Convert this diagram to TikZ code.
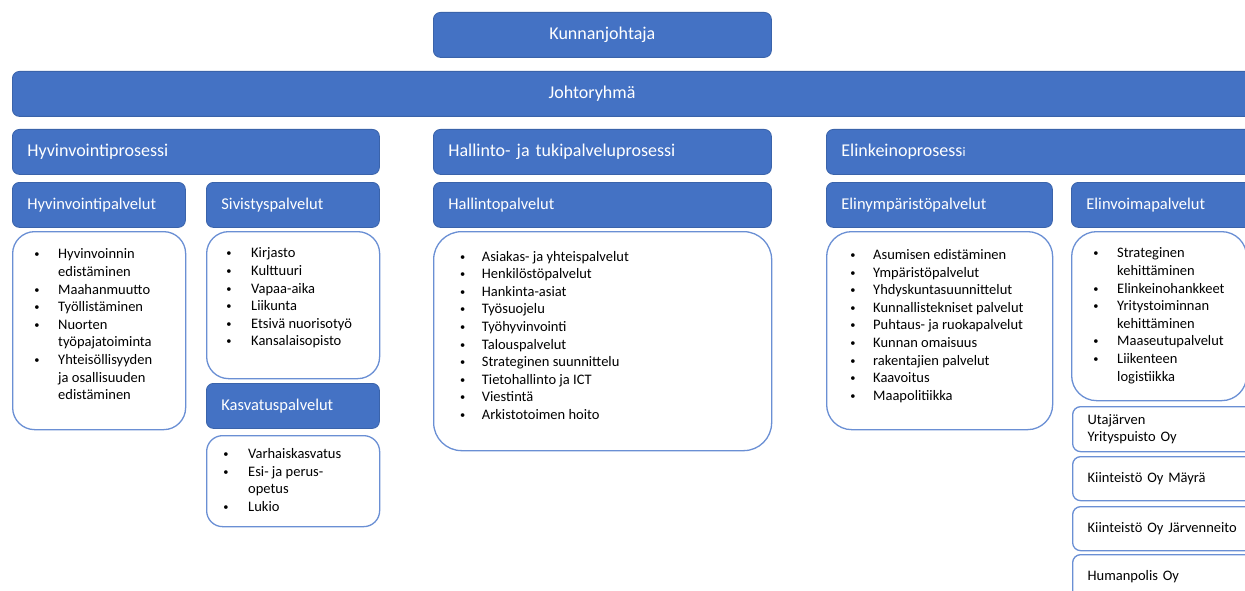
\documentclass[tikz,border=0pt]{standalone}
\usepackage{fontspec}
\setmainfont{Carlito}
\definecolor{ofblue}{HTML}{4472C4}
\definecolor{ofedge}{HTML}{3A63AA}
\definecolor{lsedge}{HTML}{6A8FD4}
\newlength\bw
\newcommand{\bu}{\makebox[\bw][l]{\hspace{0.6pt}\raisebox{1pt}{\scalebox{0.72}{\textbullet}}}}
\tikzset{
 bluebox/.style={draw=ofedge, line width=0.8pt, fill=ofblue, rounded corners=7pt, text=white, inner ysep=0pt, anchor=north west},
 hdrA/.style={bluebox, font=\fontsize{18}{21}\selectfont, inner xsep=15pt, align=left, minimum height=45pt},
 hdrB/.style={bluebox, font=\fontsize{16.5}{20}\selectfont, inner xsep=15pt, align=left, minimum height=45pt},
 listbox/.style={draw=lsedge, line width=1.3pt, fill=white, rounded corners=22pt, anchor=north west, inner sep=0pt},
 listtext/.style={anchor=base west, inner sep=0pt, font=\fontsize{14.5}{17.6}\selectfont, text=black},
 compbox/.style={draw=lsedge, line width=1.3pt, fill=white, rounded corners=8pt, anchor=north west, inner xsep=15pt, inner ysep=0pt, align=left, font=\fontsize{14.5}{17.6}\selectfont, text=black},
}
\begin{document}
\begin{tikzpicture}[x=1pt,y=-1pt]
\useasboundingbox (0,0) rectangle (1245,591);
\clip (0,0) rectangle (1245,591);
\fill[white] (0,0) rectangle (1245,591);

% top
\node[bluebox, font=\fontsize{18}{21}\selectfont, minimum width=338pt, minimum height=45pt, inner xsep=0pt] (kunnan) at (433,12) {Kunnanjohtaja};
\node[bluebox, minimum width=1260pt, minimum height=45pt, inner xsep=0pt] (johto) at (12,71) {};
\node[text=white, font=\fontsize{18}{21}\selectfont, inner sep=0pt] (johtot) at (592,93.5) {Johtoryhmä};

% process row
\node[hdrA, text width=337pt] (hproc) at (12,129) {Hyvinvointiprosessi};
\node[hdrA, text width=308pt] (aproc) at (433,129) {Hallinto- ja tukipalveluprosessi};
\node[hdrA, text width=404pt] (eproc) at (826,129) {Elinkeinoprosess{\fontsize{13}{15}\selectfont i}};

% sub headers
\node[hdrB, text width=143pt] (hpalv) at (12,182) {Hyvinvointipalvelut};
\node[hdrB, text width=143pt] (spalv) at (206,182) {Sivistyspalvelut};
\node[hdrB, text width=308pt] (apalv) at (433,182) {Hallintopalvelut};
\node[hdrB, text width=196pt] (epalv) at (826,182) {Elinympäristöpalvelut};
\node[hdrB, text width=170pt] (vpalv) at (1071,182) {Elinvoimapalvelut};
\node[hdrB, text width=143pt] (kpalv) at (206,383) {Kasvatuspalvelut};

% list boxes
\node[listbox, minimum width=173pt, minimum height=198pt] (hbox) at (12,231) {};
\node[listtext] (hlist) at (33.5,258.8) {\setlength\bw{24.5pt}\begin{tabular}[t]{@{}l@{}l@{}}
\bu & Hyvinvoinnin\\ & edistäminen\\
\bu & Maahanmuutto\\
\bu & Työllistäminen\\
\bu & Nuorten\\ & työpajatoiminta\\
\bu & Yhteisöllisyyden\\ & ja osallisuuden\\ & edistäminen
\end{tabular}};

\node[listbox, minimum width=173pt, minimum height=147pt] (sbox) at (206,231) {};
\node[listtext] (slist) at (225.5,257.8) {\setlength\bw{25.5pt}\begin{tabular}[t]{@{}l@{}l@{}}
\bu & Kirjasto\\
\bu & Kulttuuri\\
\bu & Vapaa-aika\\
\bu & Liikunta\\
\bu & Etsivä nuorisotyö\\
\bu & Kansalaisopisto
\end{tabular}};

\node[listbox, rounded corners=16pt, minimum width=173pt, minimum height=91pt] (kbox) at (206,435) {};
\node[listtext] (klist) at (222.5,458.5) {\setlength\bw{25.5pt}\begin{tabular}[t]{@{}l@{}l@{}}
\bu & Varhaiskasvatus\\
\bu & Esi- ja perus-\\ & opetus\\
\bu & Lukio
\end{tabular}};

\node[listbox, rounded corners=28pt, minimum width=338pt, minimum height=219pt] (abox) at (433,231) {};
\node[listtext] (alist) at (459.2,261) {\setlength\bw{22.5pt}\begin{tabular}[t]{@{}l@{}l@{}}
\bu & Asiakas- ja yhteispalvelut\\
\bu & Henkilöstöpalvelut\\
\bu & Hankinta-asiat\\
\bu & Työsuojelu\\
\bu & Työhyvinvointi\\
\bu & Talouspalvelut\\
\bu & Strateginen suunnittelu\\
\bu & Tietohallinto ja ICT\\
\bu & Viestintä\\
\bu & Arkistotoimen hoito
\end{tabular}};

\node[listbox, rounded corners=25pt, minimum width=226pt, minimum height=198pt] (ebox) at (826,231) {};
\node[listtext] (elist) at (849.5,259.5) {\setlength\bw{23.5pt}\begin{tabular}[t]{@{}l@{}l@{}}
\bu & Asumisen edistäminen\\
\bu & Ympäristöpalvelut\\
\bu & Yhdyskuntasuunnittelut\\
\bu & Kunnallistekniset palvelut\\
\bu & Puhtaus- ja ruokapalvelut\\
\bu & Kunnan omaisuus\\
\bu & rakentajien palvelut\\
\bu & Kaavoitus\\
\bu & Maapolitiikka
\end{tabular}};

\node[listbox, rounded corners=25pt, minimum width=175pt, minimum height=169pt] (vbox) at (1071,231) {};
\node[listtext] (vlist) at (1092.5,257.8) {\setlength\bw{24.5pt}\begin{tabular}[t]{@{}l@{}l@{}}
\bu & Strateginen\\ & kehittäminen\\
\bu & Elinkeinohankkeet\\
\bu & Yritystoiminnan\\ & kehittäminen\\
\bu & Maaseutupalvelut\\
\bu & Liikenteen\\ & logistiikka
\end{tabular}};

% companies
\node[compbox, text width=160pt, minimum height=45pt] (uta) at (1072,406) {Utajärven\\Yrityspuisto Oy};
\node[compbox, text width=160pt, minimum height=44pt] (mayra) at (1072,456) {Kiinteistö Oy Mäyrä};
\node[compbox, text width=160pt, minimum height=44pt] (jarv) at (1072,506) {Kiinteistö Oy Järvenneito};
\node[compbox, text width=160pt, minimum height=44pt] (human) at (1072,554) {Humanpolis Oy};
\end{tikzpicture}
\end{document}
